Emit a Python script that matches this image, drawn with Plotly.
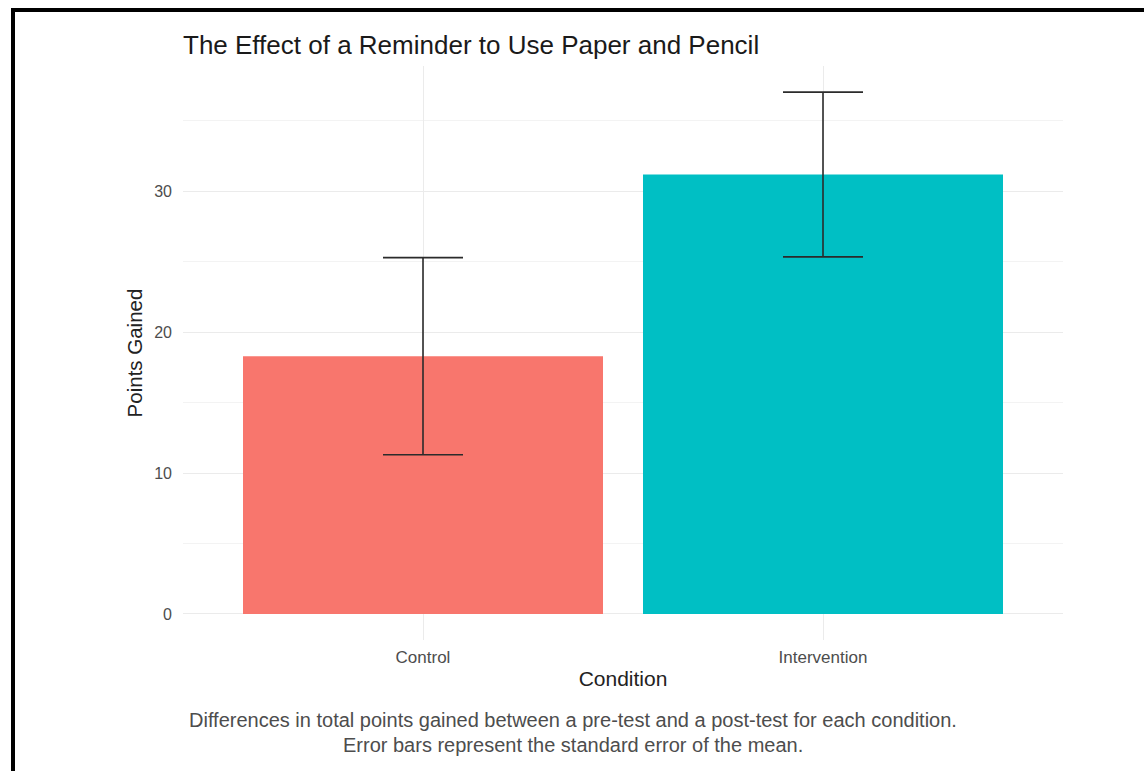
import plotly.graph_objects as go

conditions = ["Control", "Intervention"]
points_gained = [18.3, 31.2]
std_error = [7.0, 5.85]
bar_colors = ["#F8766D", "#00BFC4"]

title_text = "The Effect of a Reminder to Use Paper and Pencil"
x_title = "Condition"
y_title = "Points Gained"
caption_lines = [
    "Differences in total points gained between a pre-test and a post-test for each condition.",
    "Error bars represent the standard error of the mean.",
]

W, H = 1144, 771
ML, MR, MT, MB = 183, 81, 66, 131
PW, PH = W - ML - MR, H - MT - MB

def px_x(px):
    return (px - ML) / PW

def px_y(py):
    return (H - MB - py) / PH

FONT = "Liberation Sans, Arial, sans-serif"

fig = go.Figure()
fig.add_trace(go.Bar(
    x=conditions,
    y=points_gained,
    width=0.9,
    marker=dict(color=bar_colors, line=dict(width=0)),
    error_y=dict(type="data", array=std_error, visible=True,
                 color="#2b2b2b", thickness=1.6, width=40),
    showlegend=False,
    hoverinfo="skip",
))

ymax = max(v + e for v, e in zip(points_gained, std_error))
pad = 0.05 * ymax

fig.update_layout(
    width=W, height=H,
    margin=dict(l=ML, r=MR, t=MT, b=MB, pad=0),
    paper_bgcolor="white",
    plot_bgcolor="white",
    font=dict(family=FONT, color="#222222"),
    title=dict(text=title_text, x=px_x(183), xref="paper", xanchor="left",
               y=1 - 45 / H, yref="container", yanchor="middle",
               font=dict(size=26, color="#1a1a1a", family=FONT)),
    xaxis=dict(
        range=[-0.6, 1.6],
        showgrid=True, gridcolor="#ebebeb", gridwidth=1,
        zeroline=False, showline=False, ticks="",
        tickfont=dict(size=17, color="#4d4d4d"),
        ticklabelstandoff=5,
        title=dict(text=x_title, font=dict(size=21, color="#222222"), standoff=5),
    ),
    yaxis=dict(
        range=[-pad, ymax + pad],
        tickvals=[0, 10, 20, 30],
        showgrid=True, gridcolor="#ebebeb", gridwidth=1,
        minor=dict(dtick=5, tick0=0, showgrid=True, gridcolor="#f3f3f3", gridwidth=1),
        zeroline=False, showline=False, ticks="",
        tickfont=dict(size=16, color="#4d4d4d"),
        ticklabelstandoff=10,
        title=dict(text=y_title, font=dict(size=20.5, color="#222222"), standoff=6),
    ),
    bargap=0.1,
)

for i, line in enumerate(caption_lines):
    fig.add_annotation(
        text=line, xref="paper", yref="paper",
        x=px_x(573), y=px_y(720 + 25 * i),
        xanchor="center", yanchor="middle", showarrow=False,
        font=dict(size=20, color="#4d4d4d", family=FONT),
    )

# black frame along top and left edges of the screenshot
fig.add_shape(type="rect", xref="paper", yref="paper",
              x0=px_x(13), x1=px_x(W + 20), y0=px_y(H + 20), y1=px_y(10),
              line=dict(color="black", width=4), fillcolor="rgba(0,0,0,0)",
              layer="above")

fig.write_html("out.html",
               config={"displayModeBar": False},
               post_script="document.body.style.margin='0';document.body.style.overflow='hidden';")
